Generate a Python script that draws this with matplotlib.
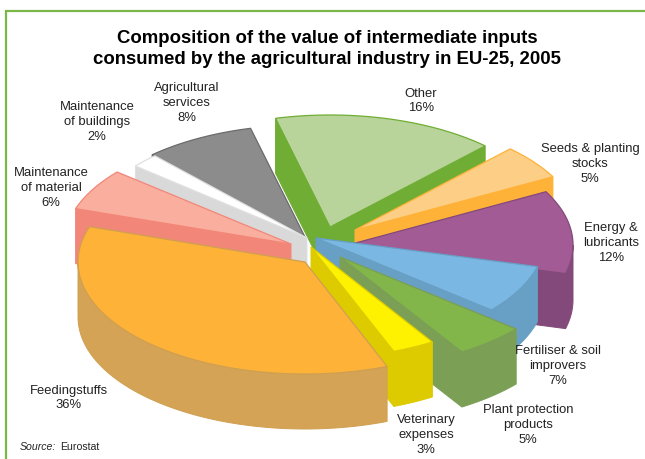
import numpy as np
import matplotlib
matplotlib.use("Agg")
import matplotlib.pyplot as plt
from matplotlib.patches import Polygon

plt.rcParams["font.family"] = ["Liberation Sans", "DejaVu Sans"]

# -----------------------------
# Data (clockwise, starting at "Other")
# -----------------------------
labels = ["Other", "Seeds & planting\nstocks", "Energy &\nlubricants",
          "Fertiliser & soil\nimprovers", "Plant protection\nproducts",
          "Veterinary\nexpenses", "Feedingstuffs", "Maintenance\nof material",
          "Maintenance\nof buildings", "Agricultural\nservices"]
values = [16, 5, 12, 7, 5, 3, 36, 6, 2, 8]

# -----------------------------
# Layout + styles, same order as the data
# -----------------------------
top_colors = ["#B8D49A", "#FDCF86", "#A25B95", "#7AB7E3", "#82B64A",
              "#FFF200", "#FFB238", "#F9AE9E", "#FFFFFF", "#8C8C8C"]
wall_colors = ["#70AD34", "#FFB238", "#83497A", "#689FC5", "#7A9F55",
               "#DDCB00", "#D5A355", "#F28779", "#D9D9D9", "#6B6B6B"]
edge_colors = ["#70AD34", "#FFB238", "#83497A", "#689FC5", "#7A9F55",
               "#DDCB00", "#D0A050", "#F28779", "#E0E0E0", "#6B6B6B"]
# exploded tip of every slice, in pixels
tips = [(330, 227), (355, 230), (348, 245), (316, 238), (340, 257),
        (311, 247), (305, 262), (291, 244), (307, 238), (305, 237)]
slice_rx = [225, 225, 225, 229, 230, 229, 227, 227, 224, 225]
label_pos = [(421, 101), (590, 164), (611, 243), (558, 366), (528, 425),
             (426, 435), (69, 398), (51, 188), (97, 122), (187, 103)]
draw_order = [0, 1, 9, 2, 8, 3, 7, 4, 5, 6]

START_ANGLE = -14.0
RY, DEPTH = 112.0, 55.0

fig = plt.figure(figsize=(6.45, 4.59), dpi=100)
ax = fig.add_axes([0, 0, 1, 1])
ax.set_xlim(0, 645)
ax.set_ylim(459, 0)
ax.axis("off")

# frame, only top and left
ax.plot([645, 6, 6], [10.5, 10.5, 459], color="#7AB648", lw=1.6, solid_joinstyle="miter")


def rim(i, deg):
    rad = np.radians(deg)
    return tips[i][0] + slice_rx[i] * np.sin(rad), tips[i][1] - RY * np.cos(rad)


def draw_slice(i, a0, a1):
    tip = tips[i]
    kw = dict(closed=True, facecolor=wall_colors[i], edgecolor=edge_colors[i], lw=0.7)

    # cut faces that look towards the viewer
    for a, visible in ((a0, np.sin(np.radians(a0)) < 0), (a1, np.sin(np.radians(a1)) > 0)):
        if visible:
            x, y = rim(i, a)
            ax.add_patch(Polygon([tip, (x, y), (x, y + DEPTH), (tip[0], tip[1] + DEPTH)], **kw))

    # outer rim, front part only
    lo, hi = max(a0, 90), min(a1, 270)
    if lo < hi:
        px, py = rim(i, np.linspace(lo, hi, 80))
        pts = list(zip(px, py)) + list(zip(px[::-1], py[::-1] + DEPTH))
        ax.add_patch(Polygon(pts, **kw))

    # top face
    px, py = rim(i, np.linspace(a0, a1, 80))
    ax.add_patch(Polygon([tip] + list(zip(px, py)), closed=True, facecolor=top_colors[i],
                         edgecolor=edge_colors[i], lw=0.9))


angles = START_ANGLE + np.concatenate([[0], np.cumsum(values)]) / sum(values) * 360
for i in draw_order:
    draw_slice(i, angles[i], angles[i + 1])

for name, val, (x, y) in zip(labels, values, label_pos):
    ax.text(x, y, f"{name}\n{val}%", ha="center", va="center", fontsize=9.4,
            color="#222222", linespacing=1.28)

ax.text(327, 49, "Composition of the value of intermediate inputs\n"
        "consumed by the agricultural industry in EU-25, 2005",
        ha="center", va="center", fontsize=13.4, fontweight="bold", color="black", linespacing=1.33)

ax.text(20, 447, "Source:", ha="left", va="center", fontsize=7.6, style="italic", color="#222222")
ax.text(60, 447, "Eurostat", ha="left", va="center", fontsize=7.6, color="#222222")

fig.savefig("out.png", dpi=100)
